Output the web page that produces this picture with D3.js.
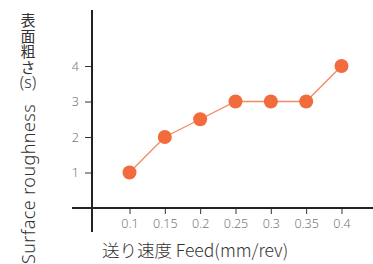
<!DOCTYPE html>
<html>
<head>
<meta charset="utf-8">
<script src="https://cdn.jsdelivr.net/npm/d3@7"></script>
<style>
  body { margin: 0; background: #fff; }
  svg { display: block; font-family: "Noto Sans CJK JP", "Noto Sans", sans-serif; }
</style>
</head>
<body>
<div id="chart"></div>
<script>
// feed rate vs surface roughness
const feeds = [0.1, 0.15, 0.2, 0.25, 0.3, 0.35, 0.4];
const roughness = [1, 2, 2.5, 3, 3, 3, 4];
const xTickLabels = ["0.1", "0.15", "0.2", "0.25", "0.3", "0.35", "0.4"];
const yTicks = [1, 2, 3, 4];

const width = 373, height = 264;
const axisX = 92, axisY = 208;

const svg = d3.select("#chart").append("svg")
  .attr("width", width)
  .attr("height", height);

const x = d3.scaleLinear().domain([0.1, 0.4]).range([129.5, 341.5]);
const y = d3.scaleLinear().domain([0, 4]).range([axisY, 66]);

// x axis ticks + labels
const xAxis = d3.axisBottom(x)
  .tickValues(feeds)
  .tickFormat((d, i) => xTickLabels[i])
  .tickSize(6)
  .tickPadding(5)
  .tickSizeOuter(0);

const gx = svg.append("g")
  .attr("transform", `translate(0,${axisY})`)
  .call(xAxis);
gx.select(".domain").remove();
gx.selectAll(".tick line").attr("stroke", "#333").attr("stroke-width", 1);
gx.selectAll(".tick text")
  .attr("fill", "#777")
  .style("font-size", "12.5px")
  .style("font-family", "Noto Sans, sans-serif")
  .style("font-weight", 300);

// y axis ticks + labels
const yAxis = d3.axisLeft(y)
  .tickValues(yTicks)
  .tickFormat(d3.format("d"))
  .tickSize(7)
  .tickPadding(6)
  .tickSizeOuter(0);

const gy = svg.append("g")
  .attr("transform", `translate(${axisX},0)`)
  .call(yAxis);
gy.select(".domain").remove();
gy.selectAll(".tick line").attr("stroke", "#333").attr("stroke-width", 1);
gy.selectAll(".tick text")
  .attr("fill", "#777")
  .style("font-size", "12.5px")
  .style("font-family", "Noto Sans, sans-serif")
  .style("font-weight", 300);

// main axis lines (cross shape)
svg.append("line")
  .attr("x1", 72).attr("x2", width)
  .attr("y1", axisY).attr("y2", axisY)
  .attr("stroke", "#222").attr("stroke-width", 2);
svg.append("line")
  .attr("x1", axisX).attr("x2", axisX)
  .attr("y1", 10).attr("y2", 232)
  .attr("stroke", "#222").attr("stroke-width", 2);

// data line and points
const pts = feeds.map((f, i) => ({ f: f, r: roughness[i] }));

svg.append("path")
  .datum(pts)
  .attr("fill", "none")
  .attr("stroke", "#f08a62")
  .attr("stroke-width", 1.3)
  .attr("d", d3.line().x(d => x(d.f)).y(d => y(d.r)));

svg.selectAll("circle.pt")
  .data(pts)
  .enter().append("circle")
  .attr("class", "pt")
  .attr("cx", d => x(d.f))
  .attr("cy", d => y(d.r))
  .attr("r", 7)
  .attr("fill", "#f26b3d");

// y label: vertical japanese + rotated english
svg.append("text")
  .attr("x", 28)
  .attr("y", 13)
  .style("writing-mode", "vertical-rl")
  .style("text-orientation", "upright")
  .attr("fill", "#333")
  .style("font-size", "15px")
  .style("letter-spacing", "0.5px")
  .text("表面粗さ");

svg.append("text")
  .attr("x", 28)
  .attr("y", 88)
  .attr("text-anchor", "middle")
  .attr("fill", "#333")
  .style("font-size", "16px")
  .style("font-family", "Noto Sans, sans-serif")
  .style("font-weight", 300)
  .text("(s)");

svg.append("text")
  .attr("transform", "translate(35,264) rotate(-90)")
  .attr("x", 0)
  .attr("y", 0)
  .attr("text-anchor", "start")
  .attr("fill", "#333")
  .style("font-size", "18px")
  .style("letter-spacing", "0.4px")
  .style("font-family", "Noto Sans, sans-serif")
  .style("font-weight", 300)
  .text("Surface roughness");

// x label
svg.append("text")
  .attr("x", 102)
  .attr("y", 257)
  .attr("fill", "#333")
  .style("font-size", "17.5px")
  .style("font-weight", 300)
  .text("送り速度 Feed(mm/rev)");
</script>
</body>
</html>
